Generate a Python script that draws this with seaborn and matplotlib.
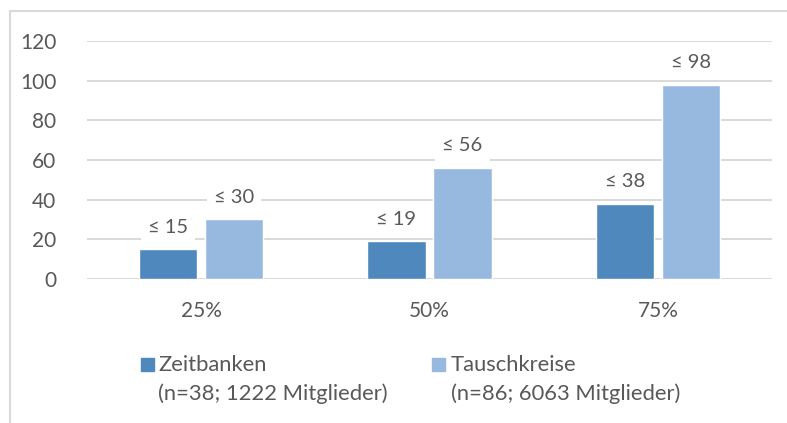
import matplotlib
matplotlib.use("Agg")
import matplotlib.pyplot as plt
import seaborn as sns
import pandas as pd
from matplotlib.lines import Line2D
from matplotlib.patches import Rectangle

categories = ["25%", "50%", "75%"]
series_names = ["Zeitbanken", "Tauschkreise"]
series_sub = ["(n=38; 1222 Mitglieder)", "(n=86; 6063 Mitglieder)"]
zeitbanken = [15, 19, 38]
tauschkreise = [30, 56, 98]
y_ticks = [0, 20, 40, 60, 80, 100, 120]
colors = ["#4F88BC", "#97B9E0"]

df = pd.DataFrame({
    "cat": categories * 2,
    "series": [series_names[0]] * 3 + [series_names[1]] * 3,
    "value": zeitbanken + tauschkreise,
})

sns.set_theme(style="white")
plt.rcParams["font.family"] = ["Lato", "DejaVu Sans"]
txt = "#595959"
grid = "#D9D9D9"

fig = plt.figure(figsize=(7.87, 4.23), dpi=100)
ax = fig.add_axes([87 / 787, 1 - 279 / 423, 685 / 787, 238 / 423])

sns.barplot(data=df, x="cat", y="value", hue="series", order=categories,
            hue_order=series_names, palette=colors, width=0.58, gap=0.12,
            saturation=1, legend=False, ax=ax, zorder=3)

ax.set_ylim(0, 120)
ax.set_xlim(-0.5, 2.5)
ax.set_yticks(y_ticks)
ax.set_yticklabels([str(t) for t in y_ticks])
ax.yaxis.grid(True, color=grid, linewidth=1.4, zorder=0)
ax.set_axisbelow(True)
for s in ax.spines.values():
    s.set_visible(False)
ax.axhline(0, color=grid, linewidth=1.4, zorder=1)
ax.tick_params(axis="y", length=0, pad=22, labelsize=15, labelcolor=txt)
ax.tick_params(axis="x", length=0, pad=16, labelsize=15, labelcolor=txt)
ax.set_xlabel("")
ax.set_ylabel("")

for cont in ax.containers:
    for bar in cont:
        h = bar.get_height()
        ax.annotate(f"≤ {int(round(h))}", (bar.get_x() + bar.get_width() / 2, h),
                    xytext=(0, 16), textcoords="offset points", ha="center", va="center",
                    fontsize=14.5, color=txt, zorder=5,
                    bbox=dict(boxstyle="square,pad=0.35", fc="white", ec="none"))

# chart border (top and left)
fig.add_artist(Line2D([10 / 787, 1.0], [1 - 11 / 423, 1 - 11 / 423], color=grid,
                      linewidth=1.5, transform=fig.transFigure))
fig.add_artist(Line2D([10 / 787, 10 / 787], [1 - 11 / 423, 0], color=grid,
                      linewidth=1.5, transform=fig.transFigure))

# legend
sq_x = [141, 432]
tx_x = [158, 451]
for i in range(2):
    fig.add_artist(Rectangle((sq_x[i] / 787, 1 - 371 / 423), 13 / 787, 13 / 423,
                             transform=fig.transFigure, color=colors[i]))
    fig.text(tx_x[i] / 787, 1 - 365 / 423, series_names[i], fontsize=15.8,
             color=txt, va="center", ha="left")
    fig.text(tx_x[i] / 787, 1 - 394 / 423, series_sub[i], fontsize=15.8,
             color=txt, va="center", ha="left")

fig.savefig("out.png", dpi=100)
